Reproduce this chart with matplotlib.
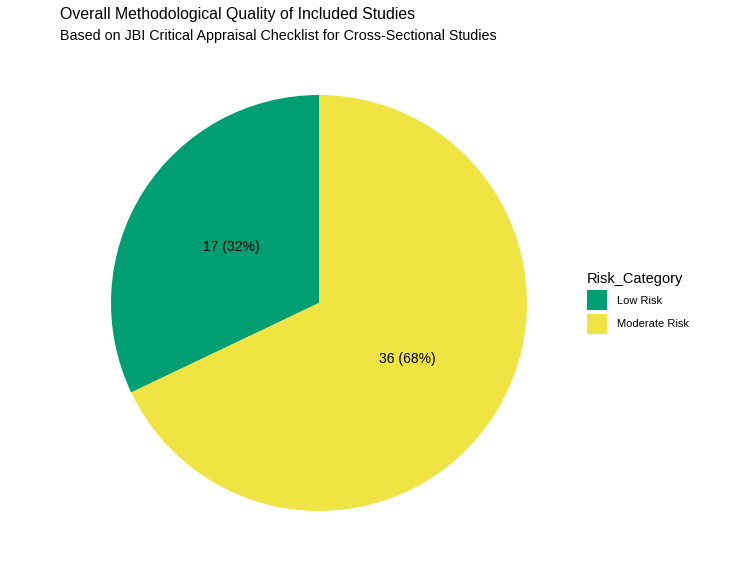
import matplotlib
matplotlib.use("Agg")
import numpy as np
import matplotlib.pyplot as plt
from matplotlib.patches import Patch

plt.rcParams['font.family'] = ['Liberation Sans', 'DejaVu Sans']

categories = ['Low Risk', 'Moderate Risk']
counts = [17, 36]
colors = ['#009E73', '#F0E442']

total = sum(counts)
labels = ['%d (%d%%)' % (c, round(100 * c / total)) for c in counts]

fig = plt.figure(figsize=(7.5, 5.63), dpi=100)
ax = fig.add_axes([111 / 750, 52 / 563, 416 / 750, 416 / 563])

# pie starts at 12 o'clock, low risk on the left
wedges, _ = ax.pie(counts, colors=colors, startangle=90, counterclock=True,
                   radius=1.0, wedgeprops=dict(linewidth=0))
for w, lab in zip(wedges, labels):
    mid = np.deg2rad((w.theta1 + w.theta2) / 2)
    ax.text(0.5 * np.cos(mid), 0.5 * np.sin(mid), lab, ha='center', va='center',
            fontsize=10, color='black')
ax.set_xlim(-1, 1)
ax.set_ylim(-1, 1)
ax.set_aspect('equal')
ax.axis('off')

fig.text(60 / 750, 1 - 15 / 563, 'Overall Methodological Quality of Included Studies',
         fontsize=11.4, ha='left', va='center')
fig.text(60 / 750, 1 - 36 / 563, 'Based on JBI Critical Appraisal Checklist for Cross-Sectional Studies',
         fontsize=10.3, ha='left', va='center')

handles = [Patch(facecolor=c, edgecolor='none') for c in colors]
leg = fig.legend(handles, categories, title='Risk_Category', loc='upper left',
                 bbox_to_anchor=(577 / 750, 1 - 262 / 563), frameon=False,
                 fontsize=8, title_fontsize=10.5, handlelength=1.8, handleheight=2.3,
                 handletextpad=0.9, labelspacing=0.4)
leg._legend_box.align = 'left'

fig.savefig('out.png', dpi=100, facecolor='white')
